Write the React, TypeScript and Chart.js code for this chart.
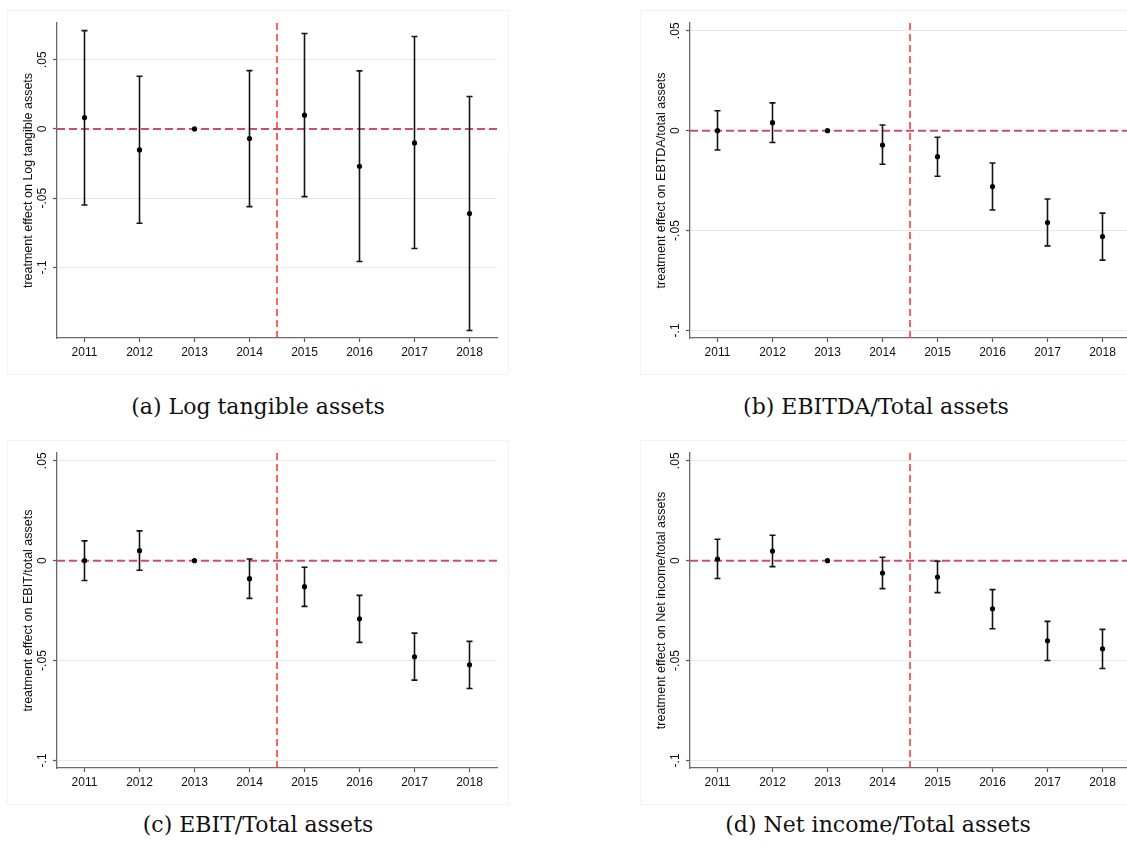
import React, { useEffect, useRef } from "react";
import { Chart, registerables } from "chart.js";

Chart.register(...registerables);

// ---------- data ----------
const years = [2011, 2012, 2013, 2014, 2015, 2016, 2017, 2018];
const yTickValues = [-0.1, -0.05, 0, 0.05];
const yTickLabels = ["-.1", "-.05", "0", ".05"];
const eventLine = 2014.5;
const zeroLine = 0;
const xMin = 2010.5;
const xMax = 2018.5;

// (a) Log tangible assets
const coefA = [0.0082, -0.0152, 0, -0.007, 0.0099, -0.027, -0.0101, -0.0611];
const lowA = [-0.0549, -0.0681, 0, -0.0561, -0.0489, -0.0958, -0.0864, -0.1456];
const highA = [0.071, 0.038, 0, 0.0421, 0.0689, 0.0419, 0.0667, 0.0234];
const yRangeA = [-0.151, 0.0765];

// (b) EBITDA / Total assets
const coefB = [0, 0.004, 0, -0.0072, -0.013, -0.028, -0.046, -0.053];
const lowB = [-0.0097, -0.0059, 0, -0.0168, -0.0228, -0.0397, -0.0577, -0.0648];
const highB = [0.01, 0.0139, 0, 0.0028, -0.0033, -0.0162, -0.0342, -0.0413];
const yRangeB = [-0.1038, 0.0539];

// (c) EBIT / Total assets
const coefC = [0, 0.005, 0, -0.009, -0.013, -0.0291, -0.0481, -0.0521];
const lowC = [-0.0099, -0.0048, 0, -0.0189, -0.0229, -0.0409, -0.0598, -0.064];
const highC = [0.0099, 0.0149, 0, 0.0008, -0.0033, -0.0174, -0.0363, -0.0404];
const yRangeC = [-0.1038, 0.0539];

// (d) Net income / Total assets
const coefD = [0.0008, 0.0048, 0, -0.0062, -0.0082, -0.0241, -0.0401, -0.0441];
const lowD = [-0.0089, -0.003, 0, -0.014, -0.016, -0.0341, -0.05, -0.054];
const highD = [0.0107, 0.0127, 0, 0.0017, -0.0003, -0.0145, -0.0304, -0.0344];
const yRangeD = [-0.1038, 0.0539];

const CANVAS_W = 520;
const CANVAS_H = 380;

type PanelProps = {
  left: number;
  top: number;
  coef: number[];
  low: number[];
  high: number[];
  yRange: number[];
  yTitle: string;
};

function Panel({ left, top, coef, low, high, yRange, yTitle }: PanelProps) {
  const ref = useRef<HTMLCanvasElement>(null);

  useEffect(() => {
    const canvas = ref.current!;
    const overlay = {
      id: "refLinesAndBars",
      beforeDatasetsDraw(chart: any) {
        const { ctx, chartArea: ca, scales } = chart;
        const x = scales.x;
        const y = scales.y;
        ctx.save();
        ctx.beginPath();
        ctx.rect(ca.left, ca.top - 1, ca.right - ca.left + 2, ca.bottom - ca.top + 1);
        ctx.clip();
        // horizontal zero line
        const y0 = y.getPixelForValue(zeroLine);
        ctx.strokeStyle = "#c95069";
        ctx.lineWidth = 2;
        ctx.setLineDash([8, 4]);
        ctx.beginPath();
        ctx.moveTo(ca.left, y0);
        ctx.lineTo(ca.right, y0);
        ctx.stroke();
        // vertical event line
        const xv = x.getPixelForValue(eventLine);
        ctx.strokeStyle = "#ff3a3a";
        ctx.lineWidth = 1.6;
        ctx.setLineDash([7, 4]);
        ctx.beginPath();
        ctx.moveTo(xv, ca.top);
        ctx.lineTo(xv, ca.bottom);
        ctx.stroke();
        ctx.setLineDash([]);
        // error bars
        ctx.strokeStyle = "#141414";
        ctx.lineWidth = 1.6;
        years.forEach((yr, i) => {
          if (low[i] === high[i]) return;
          const px = x.getPixelForValue(yr);
          const pl = y.getPixelForValue(low[i]);
          const ph = y.getPixelForValue(high[i]);
          ctx.beginPath();
          ctx.moveTo(px, pl);
          ctx.lineTo(px, ph);
          ctx.moveTo(px - 3, pl);
          ctx.lineTo(px + 3, pl);
          ctx.moveTo(px - 3, ph);
          ctx.lineTo(px + 3, ph);
          ctx.stroke();
        });
        ctx.restore();
      },
    };

    const tickFont = { family: "'Liberation Sans', Arial, sans-serif", size: 12 };
    const chart = new Chart(canvas, {
      type: "scatter",
      data: {
        datasets: [
          {
            data: years.map((yr, i) => ({ x: yr, y: coef[i] })),
            pointRadius: 2.6,
            pointHoverRadius: 2.6,
            pointBackgroundColor: "#000",
            pointBorderWidth: 0,
            showLine: false,
          },
        ],
      },
      options: {
        animation: false,
        responsive: false,
        maintainAspectRatio: false,
        devicePixelRatio: 1,
        layout: { padding: { top: 23, right: 23, left: 0, bottom: 0 } },
        plugins: { legend: { display: false }, tooltip: { enabled: false } },
        scales: {
          x: {
            type: "linear",
            min: xMin,
            max: xMax,
            afterBuildTicks: (s: any) => {
              s.ticks = years.map((v) => ({ value: v }));
            },
            afterFit: (s: any) => {
              s.height = 42;
            },
            ticks: {
              autoSkip: false,
              maxRotation: 0,
              minRotation: 0,
              padding: 3,
              color: "#111",
              font: tickFont,
              callback: (v: any) => String(v),
            },
            grid: {
              drawOnChartArea: false,
              drawTicks: true,
              tickLength: 4,
              tickColor: "#555",
              tickWidth: 1.2,
            },
            border: { display: true, color: "#6a6a6a", width: 1.3 },
          },
          y: {
            type: "linear",
            min: yRange[0],
            max: yRange[1],
            afterBuildTicks: (s: any) => {
              s.ticks = yTickValues.map((v) => ({ value: v }));
            },
            afterFit: (s: any) => {
              s.width = 57;
            },
            ticks: {
              autoSkip: false,
              minRotation: 90,
              maxRotation: 90,
              crossAlign: "center",
              padding: 0,
              color: "#111",
              font: tickFont,
              callback: (_v: any, i: number) => yTickLabels[i],
            },
            grid: {
              color: "#e2eaea",
              lineWidth: 1,
              drawTicks: true,
              tickLength: 4,
              tickColor: "#555",
              tickWidth: 1.2,
            },
            border: { display: true, color: "#6a6a6a", width: 1.3 },
            title: {
              display: true,
              text: yTitle,
              color: "#111",
              font: { family: "'Liberation Sans', Arial, sans-serif", size: 12.5 },
              padding: { top: 21.5, bottom: 0 },
            },
          },
        },
      },
      plugins: [overlay],
    } as any);
    return () => chart.destroy();
  }, [coef, low, high, yRange, yTitle]);

  return (
    <>
      <div
        style={{
          position: "absolute",
          left: left + 7,
          top: top + 10,
          width: 502,
          height: 365,
          border: "1px solid #f2f4f4",
          boxSizing: "border-box",
        }}
      />
      <canvas
        ref={ref}
        width={CANVAS_W}
        height={CANVAS_H}
        style={{ position: "absolute", left, top, width: CANVAS_W, height: CANVAS_H }}
      />
    </>
  );
}

function Caption({ text, cx, cy }: { text: string; cx: number; cy: number }) {
  return (
    <div
      style={{
        position: "absolute",
        left: cx,
        top: cy,
        transform: "translate(-50%, -50%)",
        whiteSpace: "nowrap",
        fontFamily: "'DejaVu Serif', serif",
        fontSize: 22,
        color: "#111",
        lineHeight: 1,
      }}
    >
      {text}
    </div>
  );
}

export default function App() {
  return (
    <div
      style={{
        position: "absolute",
        left: 0,
        top: 0,
        width: 1127,
        height: 848,
        overflow: "hidden",
        background: "#fff",
      }}
    >
      <Panel left={0} top={0} coef={coefA} low={lowA} high={highA} yRange={yRangeA}
        yTitle="treatment effect on Log tangible assets" />
      <Panel left={633} top={0} coef={coefB} low={lowB} high={highB} yRange={yRangeB}
        yTitle="treatment effect on EBTDA/total assets" />
      <Panel left={0} top={430} coef={coefC} low={lowC} high={highC} yRange={yRangeC}
        yTitle="treatment effect on EBIT/total assets" />
      <Panel left={633} top={430} coef={coefD} low={lowD} high={highD} yRange={yRangeD}
        yTitle="treatment effect on Net income/total assets" />
      <Caption text="(a) Log tangible assets" cx={258} cy={407} />
      <Caption text="(b) EBITDA/Total assets" cx={876} cy={407} />
      <Caption text="(c) EBIT/Total assets" cx={258} cy={825} />
      <Caption text="(d) Net income/Total assets" cx={878} cy={825} />
    </div>
  );
}
